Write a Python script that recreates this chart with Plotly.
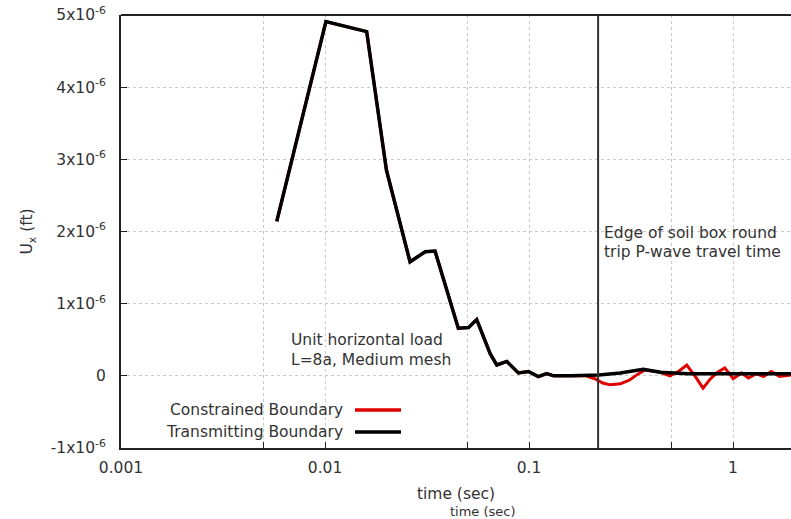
import plotly.graph_objects as go

# ---- data ----
t_black = [0.0058, 0.0101, 0.016, 0.020, 0.0261, 0.031, 0.0346, 0.045, 0.0505, 0.0554,
           0.0644, 0.0695, 0.0778, 0.0887, 0.0993, 0.111, 0.122, 0.132, 0.16, 0.20,
           0.22, 0.28, 0.363, 0.44, 0.6, 0.8, 1.0, 1.3, 1.6, 2.0]
u_black = [2.14, 4.91, 4.77, 2.85, 1.58, 1.72, 1.73, 0.66, 0.67, 0.78,
           0.31, 0.15, 0.20, 0.04, 0.06, -0.01, 0.03, 0.0, 0.0, 0.0,
           0.01, 0.04, 0.09, 0.05, 0.03, 0.03, 0.03, 0.03, 0.03, 0.03]

t_red = [0.0058, 0.0101, 0.016, 0.020, 0.0261, 0.031, 0.0346, 0.045, 0.0505, 0.0554,
         0.0644, 0.0695, 0.0778, 0.0887, 0.0993, 0.111, 0.122, 0.132, 0.16, 0.19,
         0.21, 0.23, 0.25, 0.28, 0.31, 0.34, 0.37, 0.44, 0.49, 0.54, 0.593, 0.62, 0.65,
         0.713, 0.77, 0.83, 0.91, 0.96,
         1.0, 1.1, 1.19, 1.3, 1.41, 1.54, 1.69, 1.92, 2.0]
u_red = [2.14, 4.91, 4.77, 2.85, 1.58, 1.72, 1.73, 0.66, 0.67, 0.78,
         0.31, 0.15, 0.20, 0.04, 0.06, -0.01, 0.03, 0.0, 0.0, 0.0,
         -0.04, -0.10, -0.125, -0.11, -0.06, 0.02, 0.08, 0.05, 0.0, 0.06, 0.15, 0.08, 0.0,
         -0.17, -0.05, 0.04, 0.11, 0.03,
         -0.04, 0.04, -0.03, 0.03, -0.01, 0.06, -0.01, 0.01, 0.01]

scale = 1e-6
x_tickvals = [0.001, 0.01, 0.1, 1]
x_ticktext = ["0.001", "0.01", "0.1", "1"]
x_minorvals = [0.005, 0.05, 0.5]
y_tickvals = [-1e-6, 0, 1e-6, 2e-6, 3e-6, 4e-6, 5e-6]
y_ticktext = ["-1x10<sup>-6</sup>", "0", "1x10<sup>-6</sup>", "2x10<sup>-6</sup>",
              "3x10<sup>-6</sup>", "4x10<sup>-6</sup>", "5x10<sup>-6</sup>"]
t_edge = 0.218
series_names = ["Constrained Boundary", "Transmitting Boundary"]
series_colors = ["#e00000", "#000000"]

FONT = "DejaVu Sans"
FS = 15.5
fig = go.Figure()
fig.add_trace(go.Scatter(x=t_red, y=[v * scale for v in u_red], mode="lines",
                         line=dict(color=series_colors[0], width=3), name=series_names[0]))
fig.add_trace(go.Scatter(x=t_black, y=[v * scale for v in u_black], mode="lines",
                         line=dict(color=series_colors[1], width=3.5), name=series_names[1]))
# vertical marker line at the round-trip travel time
fig.add_trace(go.Scatter(x=[t_edge, t_edge], y=[-1e-6, 5e-6], mode="lines",
                         line=dict(color="#333", width=2), showlegend=False, hoverinfo="skip"))

GRID = dict(showgrid=True, gridcolor="#c8c8c8", griddash="dot", gridwidth=1)
fig.update_layout(
    width=791, height=519,
    margin=dict(l=121, r=0, t=15, b=71),
    paper_bgcolor="white", plot_bgcolor="white",
    showlegend=False,
    font=dict(family=FONT, size=FS, color="#333"),
    xaxis=dict(type="log", range=[-3, 0.284], tickmode="array",
               tickvals=x_tickvals, ticktext=x_ticktext,
               ticks="inside", ticklen=6, tickcolor="#222", tickwidth=1,
               showline=True, linecolor="#222", linewidth=2,
               zeroline=False, ticklabelstandoff=4,
               minor=dict(tickmode="array", tickvals=x_minorvals, ticks="inside", ticklen=6,
                          tickcolor="#222", **GRID),
               title=dict(text="time (sec)", standoff=13, font=dict(size=FS)),
               **GRID),
    yaxis=dict(range=[-1e-6, 5e-6], tickvals=y_tickvals, ticktext=y_ticktext,
               ticks="inside", ticklen=6, tickcolor="#222", tickwidth=1,
               showline=True, linecolor="#222", linewidth=2,
               zeroline=False, ticklabelstandoff=10,
               title=dict(text="U<sub>x</sub> (ft)", standoff=14, font=dict(size=FS)),
               **GRID),
)

# top border
fig.add_shape(type="line", xref="paper", yref="paper", x0=0, x1=1, y0=1, y1=1,
              line=dict(color="#222", width=2))

def ypaper(ypix):
    return (448 - ypix) / 433

def xpaper(xpix):
    return (xpix - 121) / 670

for txt, yp in [("Unit horizontal load", 340), ("L=8a, Medium mesh", 360)]:
    fig.add_annotation(text=txt, xref="paper", yref="paper", x=xpaper(289), y=ypaper(yp),
                       xanchor="left", yanchor="middle", showarrow=False,
                       font=dict(size=FS, color="#333"))
for txt, yp in [("Edge of soil box round", 233), ("trip P-wave travel time", 252)]:
    fig.add_annotation(text=txt, xref="paper", yref="paper", x=xpaper(602), y=ypaper(yp),
                       xanchor="left", yanchor="middle", showarrow=False,
                       font=dict(size=FS, color="#333"))
# second (duplicated) axis label seen in the reference
fig.add_annotation(text="time (sec)", xref="paper", yref="paper",
                   x=xpaper(483), y=ypaper(512), xanchor="center", yanchor="middle",
                   showarrow=False, font=dict(size=13, color="#333"))

# legend (text right-aligned, sample line on the right)
for i, (name, col) in enumerate(zip(series_names, series_colors)):
    yp = ypaper(410 + 22 * i)
    fig.add_annotation(text=name, xref="paper", yref="paper", x=xpaper(345), y=yp,
                       xanchor="right", yanchor="middle", showarrow=False,
                       font=dict(size=FS, color="#333"))
    fig.add_shape(type="line", xref="paper", yref="paper",
                  x0=xpaper(355), x1=xpaper(401), y0=yp, y1=yp,
                  line=dict(color=col, width=3.5))

fig.write_html("out.html")
